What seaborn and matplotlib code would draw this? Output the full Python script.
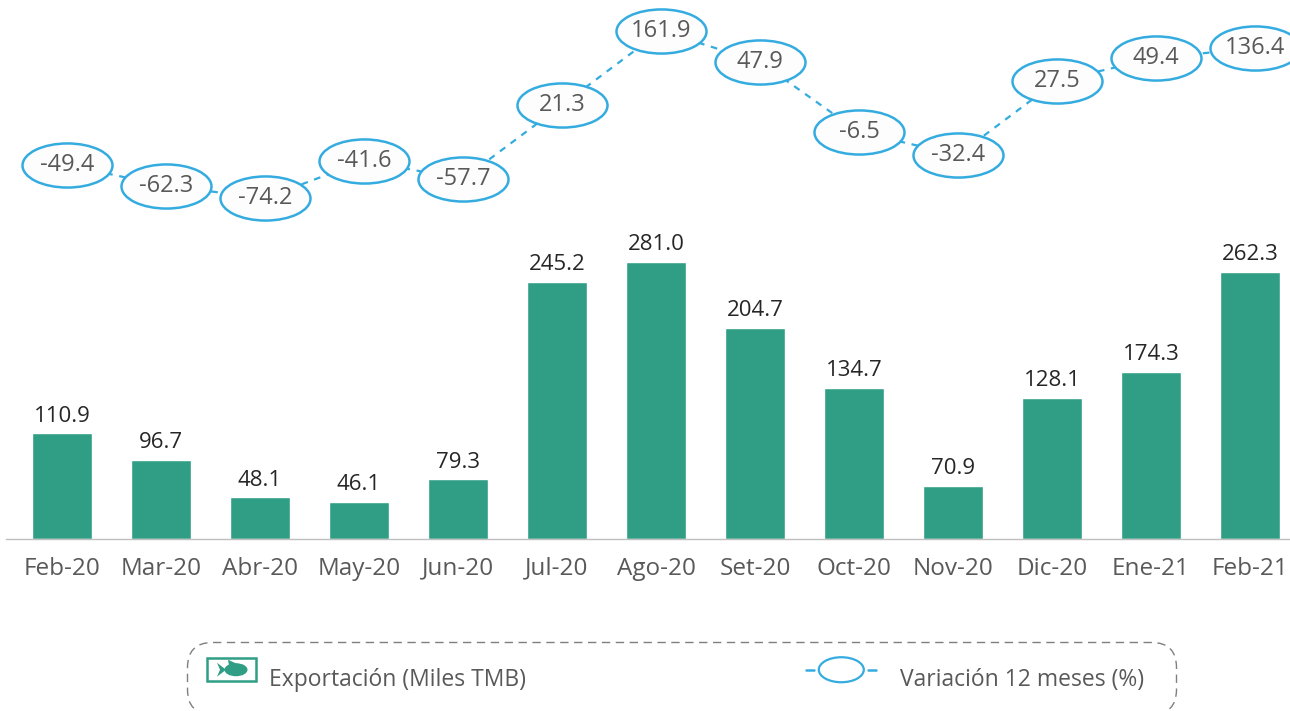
import matplotlib
matplotlib.use("Agg")
import matplotlib.pyplot as plt
import seaborn as sns
import pandas as pd
import numpy as np
from matplotlib.path import Path
from matplotlib.patches import Rectangle, Ellipse, Polygon, BoxStyle
from matplotlib.lines import Line2D
from matplotlib.legend_handler import HandlerBase

months = ["Feb-20", "Mar-20", "Abr-20", "May-20", "Jun-20", "Jul-20", "Ago-20",
          "Set-20", "Oct-20", "Nov-20", "Dic-20", "Ene-21", "Feb-21"]
# printed labels
export_labels = [110.9, 96.7, 48.1, 46.1, 79.3, 245.2, 281.0, 204.7, 134.7, 70.9, 128.1, 174.3, 262.3]
var_labels = ["-49.4", "-62.3", "-74.2", "-41.6", "-57.7", "21.3", "161.9",
              "47.9", "-6.5", "-32.4", "27.5", "49.4", "136.4"]
# heights as drawn in the reference (the original is not to scale)
export_drawn = [106, 79, 42, 37, 60, 257, 277, 211, 151, 53, 141, 167, 267]
var_drawn = [60, 39, 27, 64, 46, 120, 194, 163, 93, 70, 144, 167, 177]

GREEN = "#2F9E85"
BLUE = "#35ACE0"
GREY = "#595959"
DARK = "#262626"
FONT = "Open Sans"

W, H = 1290, 711
sns.set_theme(style="white")
plt.rcParams["font.family"] = [FONT, "DejaVu Sans"]
fig = plt.figure(figsize=(W / 100, H / 100), dpi=100, facecolor="white")


def px_axes(x0, x1, ytop, ybot):
    return fig.add_axes([x0 / W, 1 - ybot / H, (x1 - x0) / W, (ybot - ytop) / H])


# bars
ax = px_axes(6, 1290, 238, 538.5)
df = pd.DataFrame({"mes": months, "exp": export_drawn})
sns.barplot(data=df, x="mes", y="exp", color=GREEN, saturation=1, width=60 / 99, ax=ax)
ax.set_xlim((6 - 62) / 99, (1290 - 62) / 99)
ax.set_ylim(0, 300.5)
ax.set_xlabel("")
ax.set_ylabel("")
ax.set_yticks([])
for s in ["top", "left", "right"]:
    ax.spines[s].set_visible(False)
ax.spines["bottom"].set_color("#BFBFBF")
ax.spines["bottom"].set_linewidth(1)
ax.tick_params(axis="x", length=0, pad=13, labelsize=17.5, labelcolor=GREY)
for i, (h, v) in enumerate(zip(export_drawn, export_labels)):
    ax.text(i, h + 6, f"{v:.1f}", ha="center", va="bottom", fontsize=16, color=DARK)
ax.patch.set_alpha(0)

# line with elliptical markers
ax2 = px_axes(0, 1290, 0, 225)
ax2.patch.set_alpha(0)
dl = pd.DataFrame({"i": np.arange(len(months)), "v": var_drawn})
sns.lineplot(data=dl, x="i", y="v", color=BLUE, lw=1.6, ax=ax2, zorder=1,
             linestyle=(0, (3, 3)), errorbar=None)
ell = Path.unit_circle().transformed(matplotlib.transforms.Affine2D().scale(1, 0.49))
ax2.scatter(dl["i"], dl["v"], marker=ell, s=(90 * 0.72) ** 2, facecolor="#FDFDFE",
            edgecolor=BLUE, linewidth=1.8, zorder=2, clip_on=False)
for i, (v, t) in enumerate(zip(var_drawn, var_labels)):
    ax2.text(i, v, t, ha="center", va="center", fontsize=17, color=GREY, zorder=3)
ax2.set_xlim(-67 / 99, (1290 - 67) / 99)
ax2.set_ylim(0, 225)
ax2.axis("off")


# legend
class FishHandler(HandlerBase):
    def create_artists(self, legend, orig, xd, yd, width, height, fontsize, trans):
        k = 0.72
        cy = height / 2
        rect = Rectangle((0, cy - 11.5 * k), 49 * k, 23 * k, fc="white", ec=GREEN, lw=1.8, transform=trans)
        cx = 25 * k
        body = Ellipse((cx + 4 * k, cy), 23 * k, 13 * k, fc=GREEN, ec="none", transform=trans)
        tail = Polygon([(cx - 6 * k, cy), (cx - 15 * k, cy + 7 * k), (cx - 12 * k, cy), (cx - 15 * k, cy - 7 * k)],
                       fc=GREEN, ec="none", transform=trans)
        fin = Polygon([(cx - 3 * k, cy + 4 * k), (cx - 4 * k, cy + 10 * k), (cx + 7 * k, cy + 5 * k)],
                      fc=GREEN, ec="none", transform=trans)
        return [rect, body, tail, fin]


class OvalHandler(HandlerBase):
    def create_artists(self, legend, orig, xd, yd, width, height, fontsize, trans):
        k = 0.72
        cy = height / 2
        cx = 4 * k
        e = Ellipse((cx, cy), 45 * k, 25 * k, fc="white", ec=BLUE, lw=1.6, transform=trans)
        l1 = Line2D([cx - 35 * k, cx - 27 * k], [cy, cy], color=BLUE, lw=1.8, transform=trans)
        l2 = Line2D([cx + 27 * k, cx + 35 * k], [cy, cy], color=BLUE, lw=1.8, transform=trans)
        return [e, l1, l2]


h1, h2 = Rectangle((0, 0), 1, 1), Line2D([], [])
fs = 16.5
pt = 0.72
leg = fig.legend([h1, h2], ["Exportación (Miles TMB)", "Variación 12 meses (%)"],
                 handler_map={h1: FishHandler(), h2: OvalHandler()},
                 ncol=2, loc="lower left", bbox_to_anchor=(187 / W, 1 - 714 / H),
                 fontsize=fs, labelcolor=GREY, frameon=True, fancybox=True,
                 handlelength=60 * pt / fs, handletextpad=0.1, handleheight=1.75,
                 columnspacing=311 * pt / fs, borderpad=20 * pt / fs, borderaxespad=0)
frame = leg.get_frame()
frame.set_linestyle((0, (6, 4)))
frame.set_edgecolor("#7F7F7F")
frame.set_linewidth(1.0)
frame.set_facecolor("white")
frame.set_alpha(1)

_round = BoxStyle("Round", pad=0, rounding_size=1.09)


def wide_round(x0, y0, width, height, mutation_size):
    # room on the right of the last entry, as in the reference
    return _round(x0, y0, width + 12, height, mutation_size)


frame.set_boxstyle(wide_round)

fig.savefig("out.png", dpi=100)
